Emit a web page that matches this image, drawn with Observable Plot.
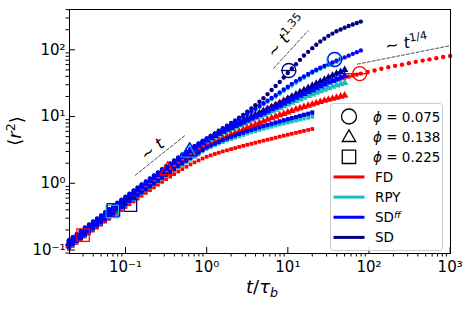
<!DOCTYPE html>
<html><head><meta charset="utf-8">
<script src="https://cdn.jsdelivr.net/npm/d3@7"></script>
<script src="https://cdn.jsdelivr.net/npm/@observablehq/plot@0.6"></script>
<style>
body{margin:0;background:#fff;}
#wrap{position:relative;width:463px;height:309px;font-family:"DejaVu Sans",sans-serif;}
#legend{position:absolute;left:330px;top:103px;}
</style></head><body><div id="wrap"></div>
<script>
// time grid t/tau_b (shared by all runs)
const xs = [0.02,0.0224,0.0251,0.0282,0.0316,0.0355,0.0398,0.0447,0.0501,0.0562,
  0.0631,0.0708,0.0794,0.0891,0.1,0.112,0.126,0.141,0.158,0.178,
  0.2,0.224,0.251,0.282,0.316,0.355,0.398,0.447,0.501,0.562,
  0.631,0.708,0.794,0.891,1,1.12,1.26,1.41,1.58,1.78,
  2,2.24,2.51,2.82,3.16,3.55,3.98,4.47,5.01,5.62,
  6.31,7.08,7.94,8.91,10,11.2,12.6,14.1,15.8,17.8,
  20,22.4,25.1,28.2,31.6,35.5,39.8,44.7,50.1,56.2,
  63.1,70.8,79.4];
// long-time continuation of the FD, phi = 0.075 run
const xsTail = [96.5,117,142,173,210,255,310,377,458,556,676,821,1000];

// phi = 0.075 (circles)
const fdCircle = [0.13,0.145,0.161,0.18,0.201,0.223,0.248,0.275,0.305,0.34,
  0.378,0.421,0.468,0.52,0.578,0.642,0.713,0.792,0.88,0.975,
  1.08,1.19,1.32,1.47,1.63,1.8,1.99,2.2,2.43,2.68,
  2.95,3.24,3.55,3.86,4.2,4.58,5.0,5.41,5.85,6.31,
  6.8,7.33,7.9,8.53,9.2,9.92,10.7,11.5,12.4,13.3,
  14.3,15.3,16.4,17.6,18.8,20,21.3,22.6,24,25.4,
  26.8,28.2,29.6,31,32.5,33.9,35.3,36.7,38.2,39.6,
  41,42.5,44];
const fdCircleTail = [46.5,49,52,55,57.5,60,63,66,69,72,75,78,81];
const rpyCircle = [0.135,0.15,0.167,0.187,0.209,0.232,0.258,0.286,0.318,0.354,
  0.395,0.44,0.49,0.545,0.607,0.675,0.75,0.833,0.925,1.027,
  1.14,1.26,1.4,1.56,1.73,1.92,2.12,2.35,2.6,2.88,
  3.18,3.5,3.85,4.21,4.6,4.98,5.4,5.88,6.4,6.93,
  7.5,8.17,8.9,9.71,10.6,11.6,12.7,13.9,15.2,16.6,
  18.2,20,22,24.1,26.5,29.1,32,34.9,38,41.4,
  45,48.4,52,55.4,59,62.4,66];
const sdffCircle = [0.138,0.154,0.171,0.191,0.214,0.238,0.264,0.293,0.326,0.363,
  0.405,0.451,0.503,0.559,0.622,0.692,0.77,0.855,0.95,1.05,
  1.165,1.29,1.43,1.59,1.77,1.96,2.17,2.4,2.66,2.94,
  3.25,3.56,3.9,4.26,4.65,5.06,5.5,5.98,6.5,7.07,
  7.7,8.37,9.1,9.96,10.9,11.95,13.1,14.4,15.8,17.3,
  19,20.9,23,25.4,28,30.9,34,36.9,40,43.4,
  47,50.4,54,57.4,61,64.9,69,72.9,77,81.8,
  87,92.3,98];
const sdCircle = [0.14,0.156,0.173,0.194,0.217,0.241,0.268,0.297,0.33,0.368,
  0.41,0.457,0.51,0.567,0.63,0.701,0.78,0.865,0.96,1.065,
  1.18,1.31,1.45,1.62,1.8,1.99,2.2,2.44,2.7,2.98,
  3.3,3.61,3.95,4.31,4.7,5.13,5.6,6.13,6.7,7.32,
  8.0,8.76,9.6,10.6,11.8,13.2,14.8,16.7,18.8,21.7,
  25,28.7,33,38.5,45,52.4,61,70.7,82,93.2,
  106,119,133,147,162,175,190,202,215,227,
  240,252,265];

// phi = 0.138 (triangles)
const fdTri = [0.115,0.128,0.143,0.16,0.178,0.198,0.22,0.245,0.272,0.302,
  0.335,0.373,0.415,0.461,0.513,0.569,0.632,0.702,0.78,0.865,
  0.96,1.06,1.18,1.31,1.46,1.61,1.78,1.96,2.16,2.37,
  2.6,2.83,3.08,3.33,3.6,3.87,4.15,4.44,4.75,5.04,
  5.35,5.67,6.0,6.39,6.8,7.19,7.6,8.04,8.5,8.99,
  9.5,9.99,10.5,11,11.6,12.2,12.8,13.4,14,14.6,
  15.3,15.9,16.6,17.3,18,18.6,19.3,20,20.7];
const rpyTri = [0.124,0.138,0.154,0.172,0.193,0.214,0.238,0.265,0.295,0.328,
  0.365,0.408,0.455,0.505,0.56,0.626,0.7,0.778,0.865,0.962,
  1.07,1.19,1.32,1.47,1.63,1.81,2.0,2.22,2.46,2.71,
  2.98,3.28,3.6,3.93,4.3,4.64,5.0,5.36,5.75,6.14,
  6.55,6.96,7.4,7.88,8.4,8.93,9.5,10,10.6,11.3,
  12,12.7,13.5,14.3,15.2,16.2,17.2,18.2,19.3,20.4,
  21.6,22.8,24,25.3,26.7,28.1,29.5,30.7,32];
const sdffTri = [0.125,0.139,0.155,0.174,0.195,0.216,0.24,0.268,0.30,0.333,
  0.37,0.413,0.46,0.512,0.57,0.634,0.705,0.785,0.875,0.972,
  1.08,1.2,1.34,1.49,1.66,1.84,2.04,2.26,2.5,2.75,
  3.03,3.33,3.67,4.02,4.4,4.76,5.15,5.54,5.95,6.36,
  6.8,7.24,7.7,8.23,8.8,9.38,10,10.6,11.3,12.1,
  12.9,13.7,14.6,15.7,16.8,18,19.3,20.6,22,23.5,
  25,26.7,28.5,30.4,32.5,34.4,36.5,38.7,41];
const sdTri = [0.126,0.14,0.156,0.175,0.196,0.218,0.242,0.27,0.30,0.333,
  0.37,0.413,0.46,0.512,0.57,0.636,0.71,0.79,0.88,0.98,
  1.09,1.21,1.35,1.5,1.67,1.85,2.05,2.27,2.52,2.77,
  3.05,3.36,3.7,4.06,4.45,4.83,5.25,5.66,6.1,6.53,
  7.0,7.48,8.0,8.58,9.2,9.87,10.6,11.3,12.1,13,
  13.9,14.9,15.9,17.2,18.5,19.9,21.5,23.2,25,26.9,
  29,31.2,33.5,35.9,38.5,41.2,44,46.9,50];

// phi = 0.225 (squares)
const fdSq = [0.104,0.115,0.128,0.143,0.16,0.177,0.196,0.217,0.24,0.266,
  0.294,0.325,0.36,0.398,0.44,0.485,0.535,0.59,0.65,0.717,
  0.79,0.869,0.955,1.05,1.15,1.26,1.37,1.5,1.63,1.77,
  1.92,2.06,2.2,2.35,2.5,2.62,2.75,2.87,3.0,3.12,
  3.25,3.37,3.5,3.64,3.78,3.91,4.05,4.2,4.35,4.5,
  4.65,4.82,5.0,5.17,5.35,5.52,5.7,5.9,6.1,6.3,
  6.5];
const rpySq = [0.108,0.12,0.134,0.15,0.167,0.185,0.206,0.229,0.254,0.282,
  0.312,0.347,0.385,0.426,0.472,0.522,0.578,0.639,0.707,0.782,
  0.865,0.953,1.05,1.16,1.28,1.41,1.55,1.71,1.88,2.06,
  2.26,2.48,2.72,2.99,3.28,3.49,3.72,3.93,4.15,4.37,
  4.6,4.82,5.05,5.29,5.55,5.79,6.05,6.3,6.55,6.8,
  7.05,7.32,7.6,7.87,8.15,8.42,8.7,9,9.3,9.6,
  9.9];
const sdffSq = [0.111,0.123,0.137,0.153,0.171,0.19,0.211,0.234,0.26,0.288,
  0.32,0.356,0.396,0.439,0.486,0.539,0.597,0.662,0.733,0.812,
  0.9,0.995,1.1,1.22,1.35,1.49,1.64,1.81,1.99,2.19,
  2.41,2.64,2.9,3.16,3.45,3.68,3.93,4.17,4.42,4.68,
  4.95,5.19,5.45,5.72,6.0,6.27,6.55,6.84,7.15,7.44,
  7.75,8.07,8.4,8.72,9.05,9.39,9.75,10.1,10.5,10.9,
  11.3];
const sdSq = [0.11,0.122,0.136,0.152,0.17,0.189,0.21,0.233,0.258,0.286,
  0.318,0.353,0.393,0.436,0.483,0.535,0.593,0.657,0.728,0.806,
  0.893,0.987,1.09,1.21,1.34,1.48,1.63,1.8,1.98,2.18,
  2.4,2.63,2.88,3.15,3.45,3.69,3.95,4.19,4.45,4.72,
  5.0,5.24,5.5,5.77,6.05,6.34,6.65,6.94,7.25,7.54,
  7.85,8.17,8.5,8.84,9.2,9.54,9.9,10.3,10.7,11.1,
  11.6];

// large open markers
const bigMethod = ["FD","RPY","SDff","SD","FD","RPY","SDff","SD","RPY","SDff","FD"];
const bigPhi = ["0.225","0.225","0.225","0.225","0.138","0.138","0.138","0.075","0.075","0.075","0.075"];
const bigX = [0.030,0.069,0.071,0.115,0.33,0.6,0.62,10.3,37,38,77];
const bigY = [0.167,0.38,0.40,0.47,1.56,2.9,3.0,49,71,72,44];

// horizontal error bars on the circle markers
const errMethod = ["SD","FD"];
const errX1 = [8.2,52];
const errX2 = [12.5,100];
const errY = [49,44];

// guide lines
const guideTx = [0.132,0.55], guideTy = [1.32,5.3];
const guide135x = [6.7,17.8], guide135y = [53,194];
const guide14x = [72,990], guide14y = [61,115];
const annText = ["∼ t","∼ t^1.35","∼ t^1/4"];
const annX = [0.215,9.6,290];
const annY = [3.2,160,127];
const annRot = [-39,-50,-10];

// ticks
const majorX = [0.1,1,10,100,1000];
const majorXLabels = ["10⁻¹","10⁰","10¹","10²","10³"];
const majorY = [0.1,1,10,100];
const majorYLabels = ["10⁻¹","10⁰","10¹","10²"];

// legend
const legendPhi = ["0.075","0.138","0.225"];
const legendMethods = ["FD","RPY","SDff","SD"];

const colors = {FD:"#ff0000", RPY:"#1dbdbd", SDff:"#0000ff", SD:"#000080"};
const shapes = {"0.075":"circle","0.138":"triangle","0.225":"square"};
const smallR = {circle:2.2, triangle:2.8, square:2.1};
const bigR = {circle:7, triangle:5.6, square:7};

// drawing order: FD, RPY, SD, SDff
const series = [
  {m:"FD",phi:"0.075",x:xs.concat(xsTail),ys:fdCircle.concat(fdCircleTail)},{m:"FD",phi:"0.138",x:xs,ys:fdTri},{m:"FD",phi:"0.225",x:xs,ys:fdSq},
  {m:"RPY",phi:"0.075",x:xs,ys:rpyCircle},{m:"RPY",phi:"0.138",x:xs,ys:rpyTri},{m:"RPY",phi:"0.225",x:xs,ys:rpySq},
  {m:"SD",phi:"0.075",x:xs,ys:sdCircle},{m:"SD",phi:"0.138",x:xs,ys:sdTri},{m:"SD",phi:"0.225",x:xs,ys:sdSq},
  {m:"SDff",phi:"0.075",x:xs,ys:sdffCircle},{m:"SDff",phi:"0.138",x:xs,ys:sdffTri},{m:"SDff",phi:"0.225",x:xs,ys:sdffSq}
];

const W=463,H=309,mL=69,mR=13,mT=9,mB=56;
const innerW=W-mL-mR, innerH=H-mT-mB;

const minorX=[], minorY=[];
for (const e of [-2,-1,0,1,2]) for (let k=2;k<10;k++){ const v=k*Math.pow(10,e); if (v>0.0204 && v<1010) minorX.push(v); }
for (const e of [-2,-1,0,1,2]) for (let k=2;k<10;k++){ const v=k*Math.pow(10,e); if (v>0.0887 && v<=402) minorY.push(v); }

const marks = [];
for (const s of series) {
  const shp = shapes[s.phi];
  marks.push(Plot.dot(s.ys.map((y,i)=>({x:s.x[i],y})), {x:"x",y:"y",fill:colors[s.m],symbol:shp,r:smallR[shp],stroke:"none"}));
}
errMethod.forEach((m,i)=>{
  marks.push(Plot.link([i],{x1:()=>errX1[i],x2:()=>errX2[i],y1:()=>errY[i],y2:()=>errY[i],stroke:colors[m],strokeWidth:1.3}));
});
bigMethod.forEach((m,i)=>{
  const shp = shapes[bigPhi[i]];
  marks.push(Plot.dot([i],{x:()=>bigX[i],y:()=>bigY[i],symbol:shp,r:bigR[shp],stroke:colors[m],fill:"none",strokeWidth:1.3}));
});
const guides = [[guideTx,guideTy],[guide135x,guide135y],[guide14x,guide14y]];
for (const [gx,gy] of guides) {
  marks.push(Plot.line(gx.map((x,i)=>({x,y:gy[i]})),{x:"x",y:"y",stroke:"#222",strokeWidth:0.8,strokeDasharray:"3,2"}));
}
annText.forEach((t,i)=>{
  marks.push(Plot.text([i],{x:()=>annX[i],y:()=>annY[i],text:()=>t,rotate:annRot[i],fontSize:16,textAnchor:"middle",fill:"black"}));
});
// axes
marks.push(Plot.axisX(majorX,{anchor:"bottom",tickSize:0,tickPadding:8,tickFormat:d=>majorXLabels[majorX.indexOf(d)],fontSize:15,label:null}));
marks.push(Plot.axisX(minorX,{anchor:"bottom",tickSize:3.5,tickFormat:()=>"",label:null}));
marks.push(Plot.axisY(majorY,{anchor:"left",tickSize:0,tickPadding:4,tickFormat:d=>majorYLabels[majorY.indexOf(d)],fontSize:15,label:null}));
marks.push(Plot.axisY(minorY,{anchor:"left",tickSize:3.5,tickFormat:()=>"",label:null}));
marks.push(Plot.tickX(majorX,{x:d=>d,insetTop:innerH-6,stroke:"black",strokeWidth:1}));
marks.push(Plot.tickY(majorY,{y:d=>d,insetRight:innerW-6,stroke:"black",strokeWidth:1}));
marks.push(Plot.frame({stroke:"black",strokeWidth:1}));

const svgNode = Plot.plot({
  width:W,height:H,marginLeft:mL,marginRight:mR,marginTop:mT,marginBottom:mB,
  x:{type:"log",domain:[0.0204,1010],axis:null},
  y:{type:"log",domain:[0.0887,402],axis:null},
  style:{fontFamily:"'DejaVu Sans',sans-serif",fontSize:"15px",color:"black",background:"white",overflow:"visible"},
  marks
});
document.getElementById("wrap").appendChild(svgNode);
const svg = d3.select(svgNode);

// annotation superscripts / italic t
svg.selectAll("text").each(function(){
  const el = d3.select(this);
  const s = el.text();
  if (!s.startsWith("∼ t")) return;
  const parts = s.split("^");
  el.text(null);
  el.append("tspan").text("∼ ");
  el.append("tspan").style("font-style","italic").text("t");
  if (parts[1]) el.append("tspan").attr("dy","-0.5em").style("font-size","0.7em").text(parts[1]);
});

// axis labels
const yl = svg.append("text").attr("transform","translate(21,131) rotate(-90)").attr("text-anchor","middle").style("font-size","18px").style("font-family","'DejaVu Sans',sans-serif");
yl.append("tspan").text("⟨");
yl.append("tspan").style("font-style","italic").text("r");
yl.append("tspan").attr("dy","-0.45em").style("font-size","0.7em").text("2");
yl.append("tspan").attr("dy","0.45em").text("⟩");
const xl = svg.append("text").attr("x",262).attr("y",293).attr("text-anchor","middle").style("font-size","18px").style("font-family","'DejaVu Sans',sans-serif");
xl.append("tspan").style("font-style","italic").text("t");
xl.append("tspan").text("/");
xl.append("tspan").style("font-style","italic").text("τ");
xl.append("tspan").attr("dy","0.3em").style("font-size","0.7em").style("font-style","italic").text("b");

// legend
const lg = d3.select("#wrap").append("svg").attr("id","legend").attr("width",114).attr("height",149)
  .style("font-family","'DejaVu Sans',sans-serif").style("font-size","13.5px");
lg.append("rect").attr("x",0.5).attr("y",0.5).attr("width",112).attr("height",147).attr("rx",3)
  .attr("fill","white").attr("fill-opacity",0.85).attr("stroke","#cccccc");
const rowY = i => 13.5 + i*20.15;
legendPhi.forEach((p,i)=>{
  const shp = shapes[p];
  const sym = d3.symbol().type(shp==="circle"?d3.symbolCircle:shp==="triangle"?d3.symbolTriangle:d3.symbolSquare)
    .size(shp==="circle"?Math.PI*7.5*7.5:shp==="triangle"?78:180);
  lg.append("path").attr("d",sym()).attr("transform",`translate(19,${rowY(i)+(shp==="triangle"?1:0)})`).attr("fill","none").attr("stroke","black").attr("stroke-width",1.3);
  const t = lg.append("text").attr("x",43).attr("y",rowY(i)+5);
  t.append("tspan").style("font-style","italic").text("ϕ");
  t.append("tspan").text(" = "+p);
});
legendMethods.forEach((m,j)=>{
  const i = j+3;
  lg.append("line").attr("x1",3.5).attr("x2",34.5).attr("y1",rowY(i)).attr("y2",rowY(i)).attr("stroke",colors[m]).attr("stroke-width",3);
  const t = lg.append("text").attr("x",45).attr("y",rowY(i)+5);
  if (m==="SDff") { t.append("tspan").text("SD"); t.append("tspan").attr("dy","-0.45em").style("font-size","0.7em").style("font-style","italic").text("ff"); }
  else t.text(m);
});
</script></body></html>
